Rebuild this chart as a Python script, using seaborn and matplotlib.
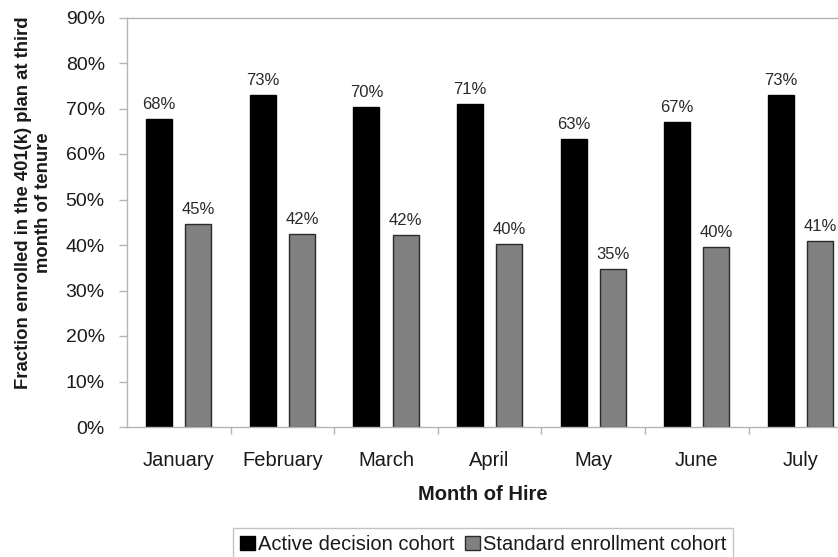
import numpy as np
import pandas as pd
import seaborn as sns
import matplotlib.pyplot as plt
from matplotlib.ticker import PercentFormatter, FixedLocator
from matplotlib.patches import Patch

months = ["January", "February", "March", "April", "May", "June", "July"]
active_decision = [67.8, 73.0, 70.4, 71.0, 63.2, 67.1, 72.9]
standard_enrollment = [44.6, 42.4, 42.2, 40.2, 34.8, 39.6, 40.9]
cohorts = ["Active decision cohort", "Standard enrollment cohort"]

df = pd.DataFrame({
    "month": months * 2,
    "cohort": [cohorts[0]] * len(months) + [cohorts[1]] * len(months),
    "value": active_decision + standard_enrollment,
})

sns.set_theme(style="white")
plt.rcParams["font.family"] = ["Liberation Sans", "DejaVu Sans"]

colors = ["#000000", "#808080"]
edges = ["#000000", "#2a2a2a"]
spine_gray = "#b4b4b4"
text_col = "#1a1a1a"

fig = plt.figure(figsize=(8.38, 5.57), dpi=100)
ax = fig.add_axes([127 / 838, 1 - 427 / 557, 1 - 127 / 838, (427 - 17.5) / 557])

sns.barplot(data=df, x="month", y="value", hue="cohort", order=months,
            hue_order=cohorts, palette=colors, width=0.76, gap=0.34,
            legend=False, ax=ax)

for container, ec in zip(ax.containers, edges):
    for bar in container:
        bar.set_edgecolor(ec)
        bar.set_linewidth(1.0)
    ax.bar_label(container, fmt=lambda v: f"{v:.0f}%", padding=5,
                 fontsize=12, color="#2a2a2a")

ax.set_ylim(0, 90)
ax.set_yticks(np.arange(0, 91, 10))
ax.yaxis.set_major_formatter(PercentFormatter(decimals=0))
ax.set_xlim(-0.5, -0.5 + (838 - 127) / 103.6)

# labels at group centres, tick marks at group boundaries
ax.set_xticks(range(len(months)))
ax.set_xticklabels(months)
ax.xaxis.set_minor_locator(FixedLocator(np.arange(0.5, len(months), 1.0)))
ax.tick_params(axis="x", which="major", length=0, pad=17, labelsize=14.5,
               labelcolor=text_col)
ax.tick_params(axis="x", which="minor", length=5, width=1, color=spine_gray,
               direction="out", bottom=True)
ax.tick_params(axis="y", length=6, width=1, color=spine_gray, direction="out",
               left=True, labelsize=14, labelcolor=text_col, pad=10)

for side in ["left", "bottom", "top"]:
    ax.spines[side].set_visible(True)
    ax.spines[side].set_color(spine_gray)
    ax.spines[side].set_linewidth(1.0)
ax.spines["right"].set_visible(False)

ax.set_xlabel("Month of Hire", fontsize=14.5, fontweight="bold",
              color=text_col, labelpad=11)
ax.set_ylabel("Fraction enrolled in the 401(k) plan at third\nmonth of tenure",
              fontsize=13.3, fontweight="bold", color=text_col, linespacing=1.2)
ax.yaxis.set_label_coords(-0.1055, 0.547)

handles = [Patch(facecolor=c, edgecolor=e, label=l)
           for c, e, l in zip(colors, edges, cohorts)]
leg = fig.legend(handles=handles, loc="upper left", ncol=2,
                 bbox_to_anchor=(233 / 838, 1 - 528 / 557),
                 frameon=True, fancybox=False, fontsize=14.5,
                 handlelength=0.75, handleheight=0.75, handletextpad=0.15,
                 columnspacing=0.5, borderpad=0.35, borderaxespad=0)
leg.get_frame().set_edgecolor(spine_gray)
leg.get_frame().set_linewidth(1.0)
for t in leg.get_texts():
    t.set_color(text_col)

fig.savefig("out.png", dpi=100)
